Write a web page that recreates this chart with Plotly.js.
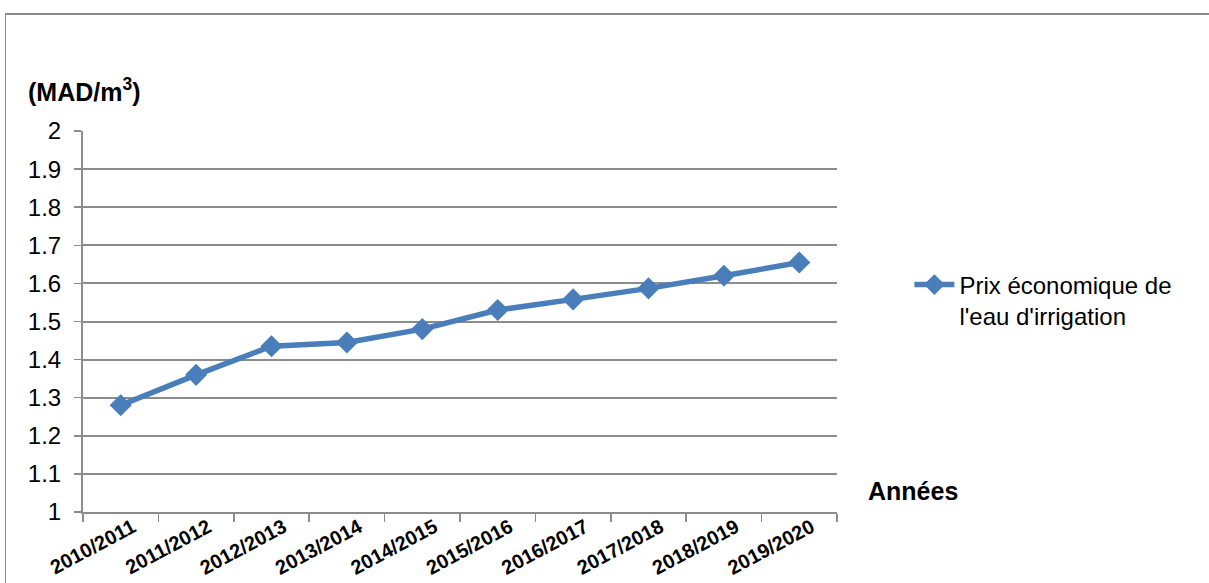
<!DOCTYPE html>
<html>
<head>
<meta charset="utf-8">
<script src="https://cdn.plot.ly/plotly-3.0.1.min.js"></script>
<style>
  html, body { margin: 0; padding: 0; background: #ffffff; overflow: hidden; }
  #frame {
    position: absolute; left: 5px; top: 13px; width: 1300px; height: 700px;
    border-left: 1px solid #8a8a8a; border-top: 2px solid #8a8a8a;
    pointer-events: none; z-index: 5;
  }
  #chart { position: absolute; left: 0; top: 0; width: 1209px; height: 583px; }
</style>
</head>
<body>
<div id="chart"></div>
<div id="frame"></div>
<script>
// Campaign years (x categories)
const years = [
  "2010/2011", "2011/2012", "2012/2013", "2013/2014", "2014/2015",
  "2015/2016", "2016/2017", "2017/2018", "2018/2019", "2019/2020"
];
// Economic price of irrigation water, MAD per m3
const prixEconomique = [1.28, 1.36, 1.435, 1.445, 1.48, 1.53, 1.558, 1.587, 1.62, 1.655];
// Y-axis tick values
const yTicks = [1, 1.1, 1.2, 1.3, 1.4, 1.5, 1.6, 1.7, 1.8, 1.9, 2];
const seriesName = "Prix économique de<br>l'eau d'irrigation";

const blue = "#4a7ebb";
const grid = "#8c8c8c";
const FONT = "Liberation Sans, Arial, sans-serif";

const traces = [{
  x: years,
  y: prixEconomique,
  type: "scatter",
  mode: "lines+markers",
  name: seriesName,
  line: { color: blue, width: 5.5 },
  marker: { symbol: "diamond", size: 17, color: blue },
  hoverinfo: "x+y"
}];

const layout = {
  width: 1209,
  height: 583,
  margin: { l: 83, r: 372, t: 131, b: 71 },
  paper_bgcolor: "#ffffff",
  plot_bgcolor: "#ffffff",
  font: { family: FONT, color: "#000000" },
  showlegend: true,
  legend: {
    x: 1.096, y: 0.655, xanchor: "left", yanchor: "top",
    valign: "top",
    font: { family: FONT, size: 24, color: "#000000" },
    bgcolor: "rgba(0,0,0,0)",
    itemwidth: 40
  },
  xaxis: {
    type: "category",
    range: [-0.5, years.length - 0.5],
    tickson: "boundaries",
    ticks: "outside",
    ticklen: 8,
    tickwidth: 1.5,
    tickcolor: grid,
    showline: true,
    linecolor: grid,
    linewidth: 2,
    showgrid: false,
    tickangle: -28,
    ticklabelshift: 12,
    ticklabelstandoff: -6,
    tickfont: { family: FONT, size: 20, color: "#000000", weight: "bold" },
    fixedrange: true
  },
  yaxis: {
    range: [1, 2],
    tickmode: "array",
    tickvals: yTicks,
    ticktext: yTicks.map(v => String(v)),
    ticks: "outside",
    ticklen: 7,
    tickwidth: 1.5,
    tickcolor: grid,
    ticklabelstandoff: 8,
    showline: true,
    linecolor: grid,
    linewidth: 2,
    showgrid: true,
    gridcolor: grid,
    gridwidth: 2,
    zeroline: false,
    tickfont: { family: FONT, size: 24, color: "#000000" },
    fixedrange: true
  },
  annotations: [
    {
      text: "<b>(MAD/m<sup style='font-size:65%'>3</sup>)</b>",
      xref: "paper", yref: "paper",
      x: -0.076, y: 1.108, xanchor: "left", yanchor: "middle",
      showarrow: false,
      font: { family: FONT, size: 25, color: "#000000" }
    },
    {
      text: "<b>Années</b>",
      xref: "paper", yref: "paper",
      x: 1.038, y: 0, xanchor: "left", yanchor: "middle", yshift: 21,
      showarrow: false,
      font: { family: FONT, size: 25, color: "#000000" }
    }
  ]
};

Plotly.newPlot("chart", traces, layout, { displayModeBar: false, staticPlot: true });
</script>
</body>
</html>
